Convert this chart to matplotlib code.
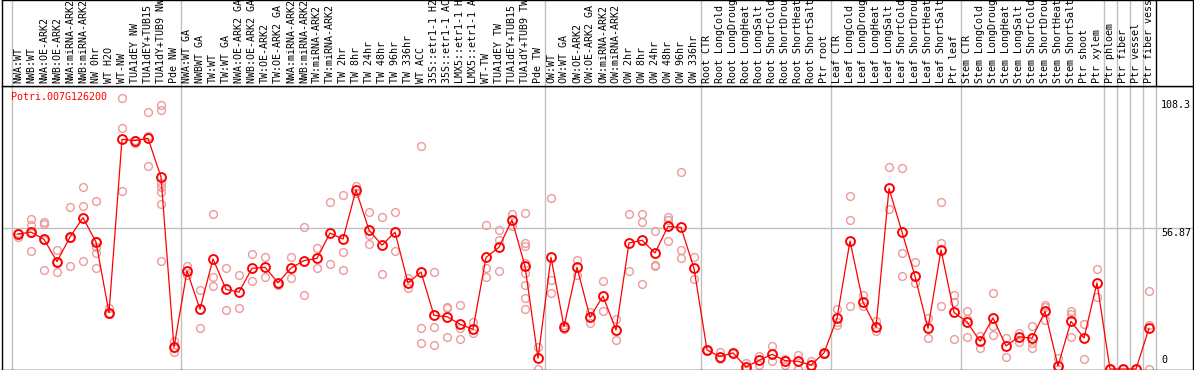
import matplotlib
matplotlib.use("Agg")
import matplotlib.pyplot as plt

GENE = "Potri.007G126200"

# sample labels, grouped as in the chart (group widths give the separators)
labels_nw = ["NWA:WT", "NWB:WT", "NWA:OE-ARK2", "NWB:OE-ARK2", "NWA:miRNA-ARK2",
             "NWB:miRNA-ARK2", "NW 0hr", "WT H2O", "WT-NW", "TUA1dEY NW",
             "TUA1dEY+TUB15 NW", "TUA1dY+TUB9 NW", "Pde NW"]
labels_tw = ["NWA:WT GA", "NWBWT GA", "TW:WT", "TW:WT GA", "NWA:OE-ARK2 GA",
             "NWB:OE-ARK2 GA", "TW:OE-ARK2", "TW:OE-ARK2 GA", "NWA:miRNA-ARK2",
             "NWB:miRNA-ARK2", "TW:miRNA-ARK2", "TW:miRNA-ARK2 GA", "TW 2hr", "TW 8hr",
             "TW 24hr", "TW 48hr", "TW 96hr", "TW 336hr", "WT ACC", "35S::etr1-1 H2O",
             "35S::etr1-1 ACC", "LMX5::etr1-1 H2O", "LMX5::etr1-1 ACC", "WT-TW",
             "TUA1dEY TW", "TUA1dEY+TUB15 TW", "TUA1dY+TUB9 TW", "Pde TW"]
labels_ow = ["OW:WT", "OW:WT GA", "OW:OE-ARK2", "OW:OE-ARK2 GA", "OW:miRNA-ARK2",
             "OW:miRNA-ARK2 GA", "OW 2hr", "OW 8hr", "OW 24hr", "OW 48hr", "OW 96hr",
             "OW 336hr"]
stress = ["CTR", "LongCold", "LongDrought", "LongHeat", "LongSalt", "ShortCold",
          "ShortDrought", "ShortHeat", "ShortSalt"]
labels_root = ["Root " + s for s in stress] + ["Ptr root"]
labels_leaf = ["Leaf " + s for s in stress] + ["Ptr leaf"]
labels_stem = ["Stem " + s for s in stress] + ["Ptr shoot", "Ptr xylem"]
labels_tissue = [["Ptr phloem"], ["Ptr fiber"], ["Ptr vessel"], ["Ptr fiber vessel"]]
groups = [labels_nw, labels_tw, labels_ow, labels_root, labels_leaf, labels_stem] + labels_tissue
labels = [lab for g in groups for lab in g]

# mean expression per sample
means = [54.4, 55.2, 52.3, 43.3, 53.2, 61.0, 51.2, 22.7, 92.6, 92.1, 93.0, 77.4, 8.7,
         39.5, 24.1, 44.4, 32.1, 31.0, 40.6, 41.0, 34.8, 40.7, 43.7, 44.6, 54.8, 52.4,
         72.2, 56.0, 49.9, 55.2, 34.7, 39.1, 21.6, 21.1, 18.1, 16.0, 45.0, 49.1, 60.1,
         41.5, 4.3,
         45.0, 17.1, 41.0, 20.8, 29.4, 15.7, 50.8, 51.9, 46.8, 57.5, 57.1, 40.6,
         7.7, 5.0, 6.5, 0.8, 3.5, 5.9, 3.4, 3.1, 1.6, 6.5,
         20.4, 51.6, 26.9, 16.8, 72.8, 55.2, 37.4, 16.4, 48.0, 22.8,
         19.0, 11.2, 20.6, 9.3, 13.0, 12.4, 23.2, 1.2, 19.2, 12.5, 34.7,
         0.0, 0.0, 0.0, 16.4]

# replicate values per sample
reps = [[53.4, 55.0, 54.8], [60.6, 57.9, 47.4, 55.0], [59.1, 58.5, 39.8, 52.0],
        [47.8, 39.0, 43.0], [65.3, 41.5, 53.0], [73.3, 65.6, 43.4],
        [67.7, 49.1, 46.6, 40.6, 51.5], [24.5, 22.4, 22.0], [109.1, 97.0, 71.6],
        [91.0, 92.5], [103.5, 94.0, 81.7], [106.5, 104.4, 74.9, 73.5, 71.5, 66.5, 43.4],
        [11.3, 6.9, 8.5],
        [41.7, 37.9], [31.9, 16.4], [62.5, 37.2, 33.5], [40.6, 23.8], [37.9, 24.5],
        [46.2, 35.5], [45.2, 37.0], [33.9, 34.8], [45.0, 36.6], [57.3, 29.8],
        [48.7, 40.7], [67.3, 42.2], [70.2, 47.2, 39.9], [73.8, 71.1],
        [63.3, 53.9, 50.4], [61.3, 38.2], [63.3, 47.6], [36.6, 32.8],
        [89.9, 16.4, 10.5], [39.1, 16.8, 9.7], [25.0, 24.5, 12.9], [25.8, 16.4, 12.1],
        [19.0, 14.4], [57.9, 40.7, 37.0], [55.9, 52.0, 39.4], [62.5, 57.5],
        [62.9, 50.7, 49.6, 42.6, 38.8, 33.7, 28.6, 24.1], [8.9, 0.0],
        [69.0, 35.9, 30.5], [17.9, 16.0], [44.0, 38.0], [23.0, 18.7], [35.3, 23.2],
        [20.3, 11.6], [62.5, 39.4], [62.5, 59.3, 34.1], [55.5, 42.1, 41.4],
        [61.3, 60.1, 51.5], [79.3, 47.8, 44.9], [45.0, 36.2],
        [7.7, 7.5], [7.0, 4.2], [6.5, 6.3], [2.4, 0.1], [5.2, 1.7], [9.3, 3.1],
        [3.9, 1.7], [5.5, 0.0], [3.2, 0.5], [6.5, 6.0],
        [24.1, 19.0, 17.9], [69.6, 59.9, 25.3], [29.7, 25.4], [19.4, 15.3],
        [81.3, 64.4], [80.9, 46.6, 37.4], [43.0, 34.8], [20.7, 12.6],
        [67.2, 50.7, 25.3], [29.7, 27.0, 12.0],
        [23.2, 20.0, 12.8], [13.4, 8.6], [30.5, 17.3, 13.6], [12.4, 5.0], [14.7, 10.9],
        [17.3, 10.6, 8.5], [25.9, 25.1, 19.6], [4.6, 0.0], [23.4, 22.0, 12.8],
        [18.1, 3.9], [40.2, 28.9],
        [0.0], [0.0], [0.0], [31.5, 17.9, 0.0]]

y_ticks = [0, 56.87, 108.3]
y_tick_labels = ["0", "56.87", "108.3"]

MONO = "DejaVu Sans Mono"
FS = 7.2
W, H = 1194, 370
fig = plt.figure(figsize=(W / 100, H / 100), dpi=100)


def px_axes(x0, y0, x1, y1):
    """axes placed in pixel coords, measured from top-left"""
    return fig.add_axes([x0 / W, 1 - y1 / H, (x1 - x0) / W, (y1 - y0) / H])


# sample i sits at pixel 18 + 13 i
x_lo, x_hi = (2 - 18) / 13, (1193 - 18) / 13
bounds = [-0.5]
n = 0
for g in groups:
    n += len(g)
    bounds.append(n - 0.5)

# --- plot area -------------------------------------------------------------
ax = px_axes(2, 86, 1193, 370)
ax.set_xlim(x_lo, x_hi)
ax.set_ylim(-0.4, 114.1)
ax.set_xticks([])
ax.set_yticks([])
for sp in ax.spines.values():
    sp.set_color("black")
    sp.set_linewidth(1.0)

for b in bounds:
    ax.axvline(b, color="#c0c0c0", lw=1.0, zorder=1)
ax.axhline(y_ticks[1], color="#c0c0c0", lw=1.0, zorder=1)

xs = list(range(len(means)))
for i, r in enumerate(reps):
    ax.plot([i] * len(r), r, "o", ms=5.6, mfc="none", mec="#ee9a9a", mew=1.0, zorder=2)
ax.plot(xs, means, "-", color="red", lw=0.9, zorder=3)
ax.plot(xs, means, "o", ms=6.4, mfc="none", mec="red", mew=1.4, zorder=4)

ax.text(9 / 1191, 1 - 11 / 284, GENE, transform=ax.transAxes, color="red",
        family=MONO, fontsize=FS, va="center", ha="left")

ytr = ax.get_yaxis_transform()
xt = (1161 - 2) / 1191
ax.text(xt, y_ticks[2], y_tick_labels[2], transform=ytr, family=MONO, fontsize=FS,
        va="top", ha="left")
ax.text(xt, y_ticks[1], y_tick_labels[1], transform=ytr, family=MONO, fontsize=FS,
        va="top", ha="left")
ax.text(xt, y_ticks[0] + 1.5, y_tick_labels[0], transform=ytr, family=MONO,
        fontsize=FS, va="bottom", ha="left")

# --- header with sample names ----------------------------------------------
hx = px_axes(2, 0, 1193, 86)
hx.set_xlim(x_lo, x_hi)
hx.set_ylim(86, 0)
hx.set_xticks([])
hx.set_yticks([])
for sp in hx.spines.values():
    sp.set_color("black")
    sp.set_linewidth(1.0)
for b in bounds[:-1]:
    hx.axvline(b, color="#c0c0c0", lw=1.0)
hx.axvline(bounds[-1], color="black", lw=1.0)
for i, lab in enumerate(labels):
    hx.text(i, 83, lab, rotation=90, family=MONO, fontsize=FS, ha="center",
            va="bottom", clip_on=True)

fig.savefig("out.png", dpi=100)
